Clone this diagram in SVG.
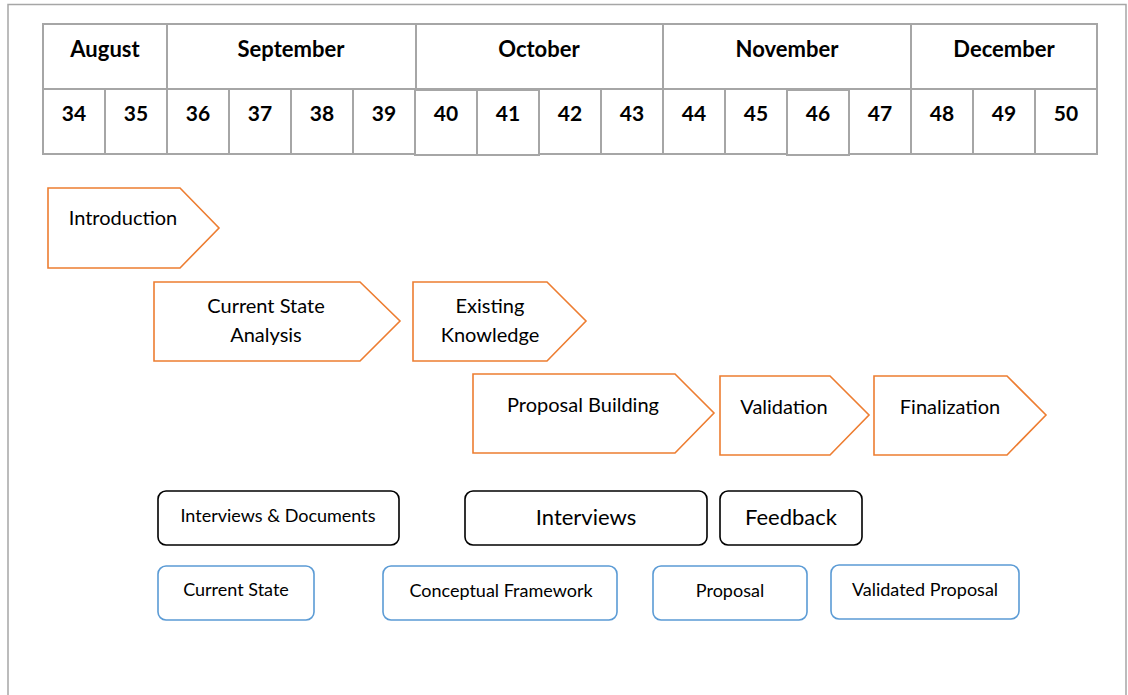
<svg xmlns="http://www.w3.org/2000/svg" width="1128" height="695" viewBox="0 0 1128 695">
  <defs>
    <style>
      .frame { fill: none; stroke: #a6a6a6; stroke-width: 1.5; }
      .cell { fill: #ffffff; stroke: #a6a6a6; stroke-width: 2; }
      .hdr { font-family: Lato, "Liberation Sans", sans-serif; font-weight: bold; font-size: 22px; fill: #000; text-anchor: middle; }
      .num { font-size: 21px; }
      .phase { fill: #ffffff; stroke: #ed7d31; stroke-width: 1.6; }
      .ptxt { font-family: Lato, "Liberation Sans", sans-serif; font-size: 20px; fill: #000; text-anchor: middle; }
      .method { fill: #ffffff; stroke: #000; stroke-width: 1.6; }
      .output { fill: #ffffff; stroke: #5b9bd5; stroke-width: 1.6; }
      .mtxt { font-family: Lato, "Liberation Sans", sans-serif; font-size: 18px; fill: #000; text-anchor: middle; }
      .big { font-size: 22px; }
    </style>
  </defs>

  <rect width="1128" height="695" fill="#ffffff"/>
  <!-- page frame -->
  <path class="frame" d="M8 695 V4.5 H1126 V695"/>

  <!-- calendar header: months -->
  <g id="months">
    <rect class="cell" x="43" y="24" width="124" height="65"/>
    <rect class="cell" x="167" y="24" width="249" height="65"/>
    <rect class="cell" x="416" y="24" width="247" height="65"/>
    <rect class="cell" x="663" y="24" width="248" height="65"/>
    <rect class="cell" x="911" y="24" width="186" height="65"/>
    <text class="hdr" x="105" y="57">August</text>
    <text class="hdr" x="291" y="57">September</text>
    <text class="hdr" x="539" y="57">October</text>
    <text class="hdr" x="787" y="57">November</text>
    <text class="hdr" x="1004" y="57">December</text>
  </g>

  <!-- calendar header: week numbers -->
  <g id="weeks">
    <rect class="cell" x="43" y="89" width="62" height="65"/>
    <rect class="cell" x="105" y="89" width="62" height="65"/>
    <rect class="cell" x="167" y="89" width="62" height="65"/>
    <rect class="cell" x="229" y="89" width="62" height="65"/>
    <rect class="cell" x="291" y="89" width="62" height="65"/>
    <rect class="cell" x="353" y="89" width="62" height="65"/>
    <rect class="cell" x="415" y="90" width="62" height="65"/>
    <rect class="cell" x="477" y="90" width="62" height="65"/>
    <rect class="cell" x="539" y="89" width="62" height="65"/>
    <rect class="cell" x="601" y="89" width="62" height="65"/>
    <rect class="cell" x="663" y="89" width="62" height="65"/>
    <rect class="cell" x="725" y="89" width="62" height="65"/>
    <rect class="cell" x="787" y="90" width="62" height="65"/>
    <rect class="cell" x="849" y="89" width="62" height="65"/>
    <rect class="cell" x="911" y="89" width="62" height="65"/>
    <rect class="cell" x="973" y="89" width="62" height="65"/>
    <rect class="cell" x="1035" y="89" width="62" height="65"/>
    <text class="hdr num" x="74" y="121">34</text>
    <text class="hdr num" x="136" y="121">35</text>
    <text class="hdr num" x="198" y="121">36</text>
    <text class="hdr num" x="260" y="121">37</text>
    <text class="hdr num" x="322" y="121">38</text>
    <text class="hdr num" x="384" y="121">39</text>
    <text class="hdr num" x="446" y="121">40</text>
    <text class="hdr num" x="508" y="121">41</text>
    <text class="hdr num" x="570" y="121">42</text>
    <text class="hdr num" x="632" y="121">43</text>
    <text class="hdr num" x="694" y="121">44</text>
    <text class="hdr num" x="756" y="121">45</text>
    <text class="hdr num" x="818" y="121">46</text>
    <text class="hdr num" x="880" y="121">47</text>
    <text class="hdr num" x="942" y="121">48</text>
    <text class="hdr num" x="1004" y="121">49</text>
    <text class="hdr num" x="1066" y="121">50</text>
  </g>

  <!-- phase chevrons -->
  <g id="introduction">
    <polygon class="phase" points="48,188 180,188 219,228 180,268 48,268"/>
    <text class="ptxt" x="123" y="225">Introduction</text>
  </g>
  <g id="current-state-analysis">
    <polygon class="phase" points="154,282 360,282 400,321 360,361 154,361"/>
    <text class="ptxt" x="266" y="313">Current State</text>
    <text class="ptxt" x="266" y="342">Analysis</text>
  </g>
  <g id="existing-knowledge">
    <polygon class="phase" points="413,282 547,282 586,321 547,361 413,361"/>
    <text class="ptxt" x="490" y="313">Existing</text>
    <text class="ptxt" x="490" y="342">Knowledge</text>
  </g>
  <g id="proposal-building">
    <polygon class="phase" points="473,374 675,374 714,413 675,453 473,453"/>
    <text class="ptxt" x="583" y="412">Proposal Building</text>
  </g>
  <g id="validation">
    <polygon class="phase" points="720,376 830,376 869,415 830,455 720,455"/>
    <text class="ptxt" x="784" y="414">Validation</text>
  </g>
  <g id="finalization">
    <polygon class="phase" points="874,376 1007,376 1046,415 1007,455 874,455"/>
    <text class="ptxt" x="950" y="414">Finalization</text>
  </g>

  <!-- methods -->
  <g id="interviews-documents">
    <rect class="method" x="158" y="491" width="241" height="54" rx="8"/>
    <text class="mtxt" x="278" y="522">Interviews &amp; Documents</text>
  </g>
  <g id="interviews">
    <rect class="method" x="465" y="491" width="242" height="54" rx="8"/>
    <text class="mtxt big" x="586" y="525">Interviews</text>
  </g>
  <g id="feedback">
    <rect class="method" x="720" y="491" width="142" height="54" rx="8"/>
    <text class="mtxt big" x="791" y="525">Feedback</text>
  </g>

  <!-- outputs -->
  <g id="current-state">
    <rect class="output" x="158" y="566" width="156" height="54" rx="8"/>
    <text class="mtxt" x="236" y="596">Current State</text>
  </g>
  <g id="conceptual-framework">
    <rect class="output" x="383" y="566" width="234" height="54" rx="8"/>
    <text class="mtxt" x="501" y="597">Conceptual Framework</text>
  </g>
  <g id="proposal">
    <rect class="output" x="653" y="566" width="154" height="54" rx="8"/>
    <text class="mtxt" x="730" y="597">Proposal</text>
  </g>
  <g id="validated-proposal">
    <rect class="output" x="831" y="565" width="188" height="54" rx="8"/>
    <text class="mtxt" x="925" y="596">Validated Proposal</text>
  </g>

  <!-- no connectors in this chart -->
  <g id="connectors"/>
</svg>
